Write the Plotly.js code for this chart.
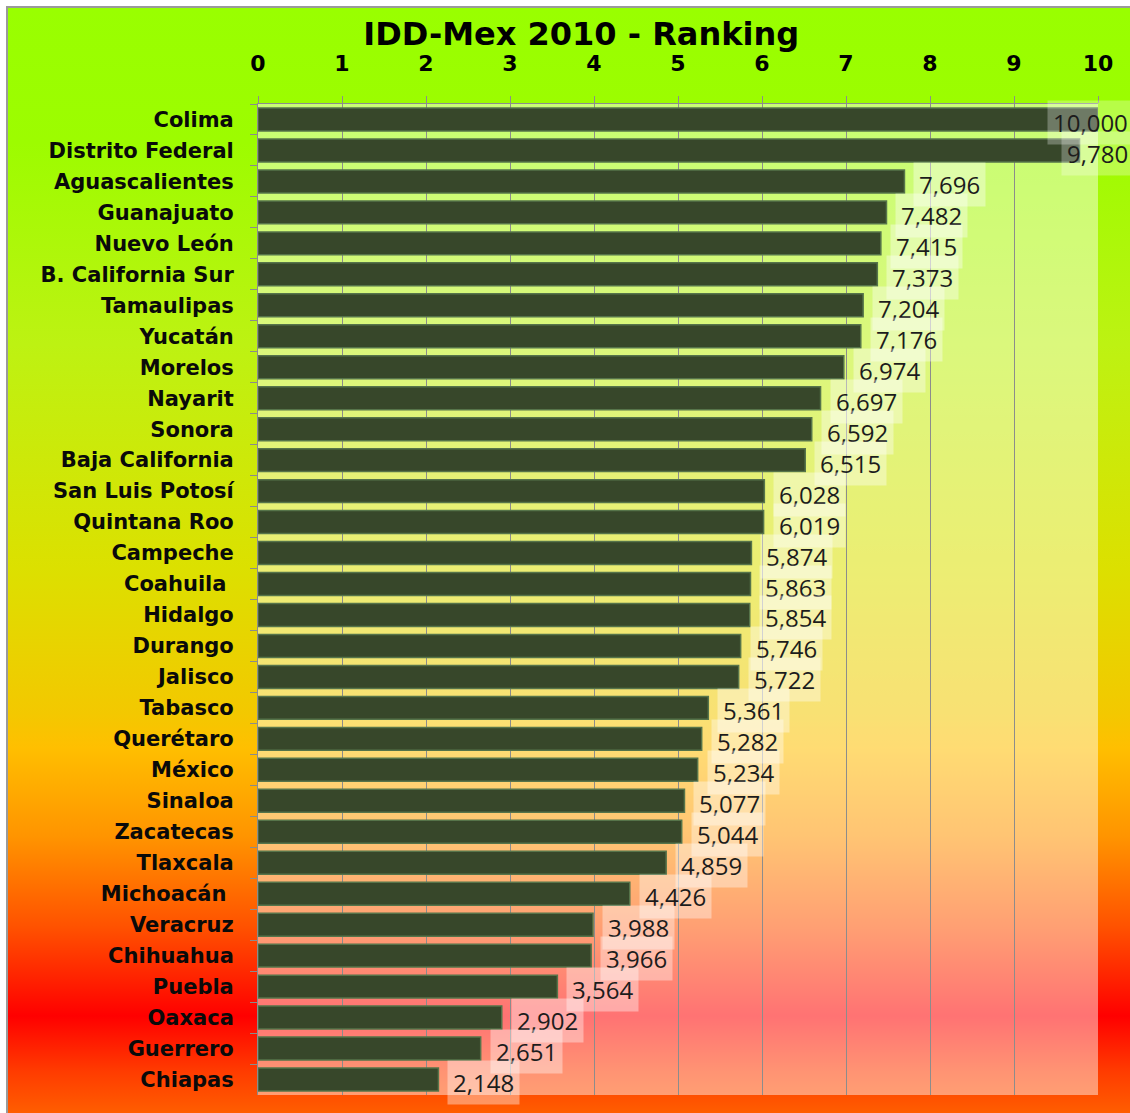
<!DOCTYPE html>
<html>
<head>
<meta charset="utf-8">
<script src="https://cdn.plot.ly/plotly-3.0.1.min.js"></script>
<style>
  html, body { margin: 0; padding: 0; background: #ffffff; overflow: hidden; width: 1130px; height: 1113px; }
  #frame {
    position: absolute; left: 6px; top: 6px; width: 1140px; height: 1120px;
    border-left: 2px solid #9a9a9a; border-top: 2px solid #9a9a9a;
    background: linear-gradient(to bottom,
      #99ff00 0%, #9dfc00 12%, #bdf212 30%, #dce000 50%, #f3c800 63%,
      #ffbf00 66%, #ff9400 74%, #ff5200 82%, #ff0000 90%, #ff3c00 95%, #ff6a00 100%);
  }
  #chart { position: absolute; left: 0px; top: 0px; width: 1124px; height: 1107px; }
</style>
</head>
<body>
<div id="frame"><div id="chart"></div></div>
<script>
const states = [
  "Colima", "Distrito Federal", "Aguascalientes", "Guanajuato", "Nuevo León",
  "B. California Sur", "Tamaulipas", "Yucatán", "Morelos", "Nayarit", "Sonora",
  "Baja California", "San Luis Potosí", "Quintana Roo", "Campeche", "Coahuila\u00a0",
  "Hidalgo", "Durango", "Jalisco", "Tabasco", "Querétaro", "México", "Sinaloa",
  "Zacatecas", "Tlaxcala", "Michoacán\u00a0", "Veracruz", "Chihuahua", "Puebla",
  "Oaxaca", "Guerrero", "Chiapas"
];
const scores = [
  10.000, 9.780, 7.696, 7.482, 7.415, 7.373, 7.204, 7.176, 6.974, 6.697, 6.592,
  6.515, 6.028, 6.019, 5.874, 5.863, 5.854, 5.746, 5.722, 5.361, 5.282, 5.234,
  5.077, 5.044, 4.859, 4.426, 3.988, 3.966, 3.564, 2.902, 2.651, 2.148
];
const tickVals = [0, 1, 2, 3, 4, 5, 6, 7, 8, 9, 10];
const titleText = "IDD-Mex 2010 - Ranking";

const fmt = v => v.toFixed(3).replace('.', ',');

const annotations = scores.map((v, i) => {
  const clamp = v > 9;
  return {
    x: clamp ? 10 : v, y: states[i], xref: 'x', yref: 'y',
    text: fmt(v), showarrow: false,
    xanchor: clamp ? 'right' : 'left',
    xshift: clamp ? 36 : 9, yshift: -3,
    bgcolor: clamp ? 'rgba(255,255,255,0.28)' : 'rgba(255,255,255,0.38)',
    borderpad: 5,
    font: { family: 'Open Sans, sans-serif', size: 24, color: '#1c1c1c' }
  };
});

const trace = {
  type: 'bar', orientation: 'h',
  x: scores, y: states,
  width: 0.74,
  marker: { color: '#37472a', line: { color: '#56744a', width: 1.5 } },
  hoverinfo: 'skip'
};

const layout = {
  width: 1124, height: 1107,
  margin: { l: 250, r: 34, t: 96, b: 20, autoexpand: false },
  paper_bgcolor: 'rgba(0,0,0,0)',
  plot_bgcolor: 'rgba(255,255,255,0.45)',
  showlegend: false,
  title: {
    text: titleText, xref: 'container', yref: 'container',
    x: 0.51, xanchor: 'center', y: 0.977, yanchor: 'middle',
    font: { family: 'DejaVu Sans, sans-serif', size: 32, color: '#000', weight: 'bold' }
  },
  xaxis: {
    side: 'top', range: [0, 10], tickvals: tickVals, automargin: false,
    showgrid: true, gridcolor: '#8c8c8c', gridwidth: 1,
    showline: true, linecolor: '#8c8c8c', linewidth: 1,
    ticks: 'outside', ticklen: 7, tickcolor: '#8c8c8c',
    ticklabelstandoff: 16,
    zeroline: false,
    tickfont: { family: 'DejaVu Sans, sans-serif', size: 22, color: '#000', weight: 'bold' }
  },
  yaxis: {
    type: 'category', range: [states.length - 0.5, -0.5], automargin: false,
    tickson: 'boundaries', ticks: 'outside', ticklen: 7, tickcolor: '#8c8c8c',
    showline: true, linecolor: '#8c8c8c', linewidth: 1,
    showgrid: false, ticklabelstandoff: 19,
    tickfont: { family: 'DejaVu Sans, sans-serif', size: 21, color: '#0a0a0a', weight: 'bold' }
  },
  annotations: annotations
};

Plotly.newPlot('chart', [trace], layout, { displayModeBar: false, staticPlot: true });
</script>
</body>
</html>
